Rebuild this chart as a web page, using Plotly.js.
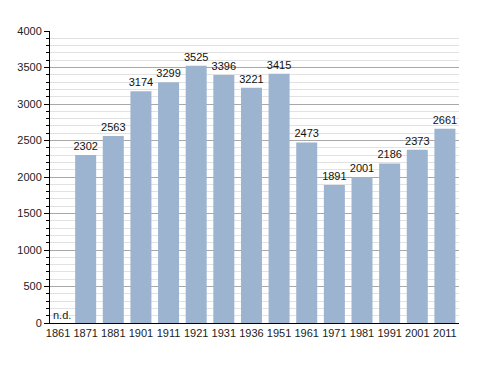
<!DOCTYPE html>
<html>
<head>
<meta charset="utf-8">
<script src="https://cdn.plot.ly/plotly-3.0.1.min.js"></script>
<style>html,body{margin:0;padding:0;background:#fff;}#chart{width:488px;height:373px;}</style>
</head>
<body>
<div id="chart"></div>
<script>
const years = ['1861','1871','1881','1901','1911','1921','1931','1936','1951','1961','1971','1981','1991','2001','2011'];
const population = [null,2302,2563,3174,3299,3525,3396,3221,3415,2473,1891,2001,2186,2373,2661];
const labels = population.map(v => v === null ? '' : String(v));
const missingLabel = 'n.d.';

const trace = {
  type: 'bar',
  x: years,
  y: population,
  text: labels,
  textposition: 'outside',
  constraintext: 'none',
  cliponaxis: false,
  textfont: {family: 'Liberation Sans, Arial, sans-serif', size: 11, color: '#111'},
  marker: {color: '#9cb4d0'},
  hoverinfo: 'x+y'
};

const layout = {
  width: 488, height: 373,
  margin: {l: 50, r: 29, t: 31, b: 50},
  paper_bgcolor: '#fff', plot_bgcolor: '#fff',
  bargap: 0.24,
  showlegend: false,
  uniformtext: {mode: false},
  font: {family: 'Liberation Sans, Arial, sans-serif', size: 11, color: '#222'},
  xaxis: {
    type: 'category',
    range: [-0.29, 14.51],
    showline: true, linecolor: '#000', linewidth: 1,
    ticks: '', showgrid: false, zeroline: false,
    tickfont: {size: 11, color: '#222'}
  },
  yaxis: {
    range: [0, 4000],
    dtick: 500,
    showline: true, linecolor: '#000', linewidth: 1,
    ticks: 'outside', ticklen: 5, tickcolor: '#000',
    showgrid: true, gridcolor: '#a8a8a8', gridwidth: 1,
    zeroline: false,
    tickfont: {size: 11, color: '#222'},
    minor: {dtick: 100, ticks: 'outside', ticklen: 3, tickcolor: '#000', showgrid: true, gridcolor: '#e2e2e2', gridwidth: 1}
  },
  annotations: [{
    text: missingLabel, xref: 'paper', yref: 'y', x: 0, y: 0,
    xanchor: 'left', yanchor: 'bottom', showarrow: false, xshift: 1, yshift: 0,
    font: {size: 11, color: '#222'}
  }]
};

Plotly.newPlot('chart', [trace], layout, {displayModeBar: false, staticPlot: true});
</script>
</body>
</html>
